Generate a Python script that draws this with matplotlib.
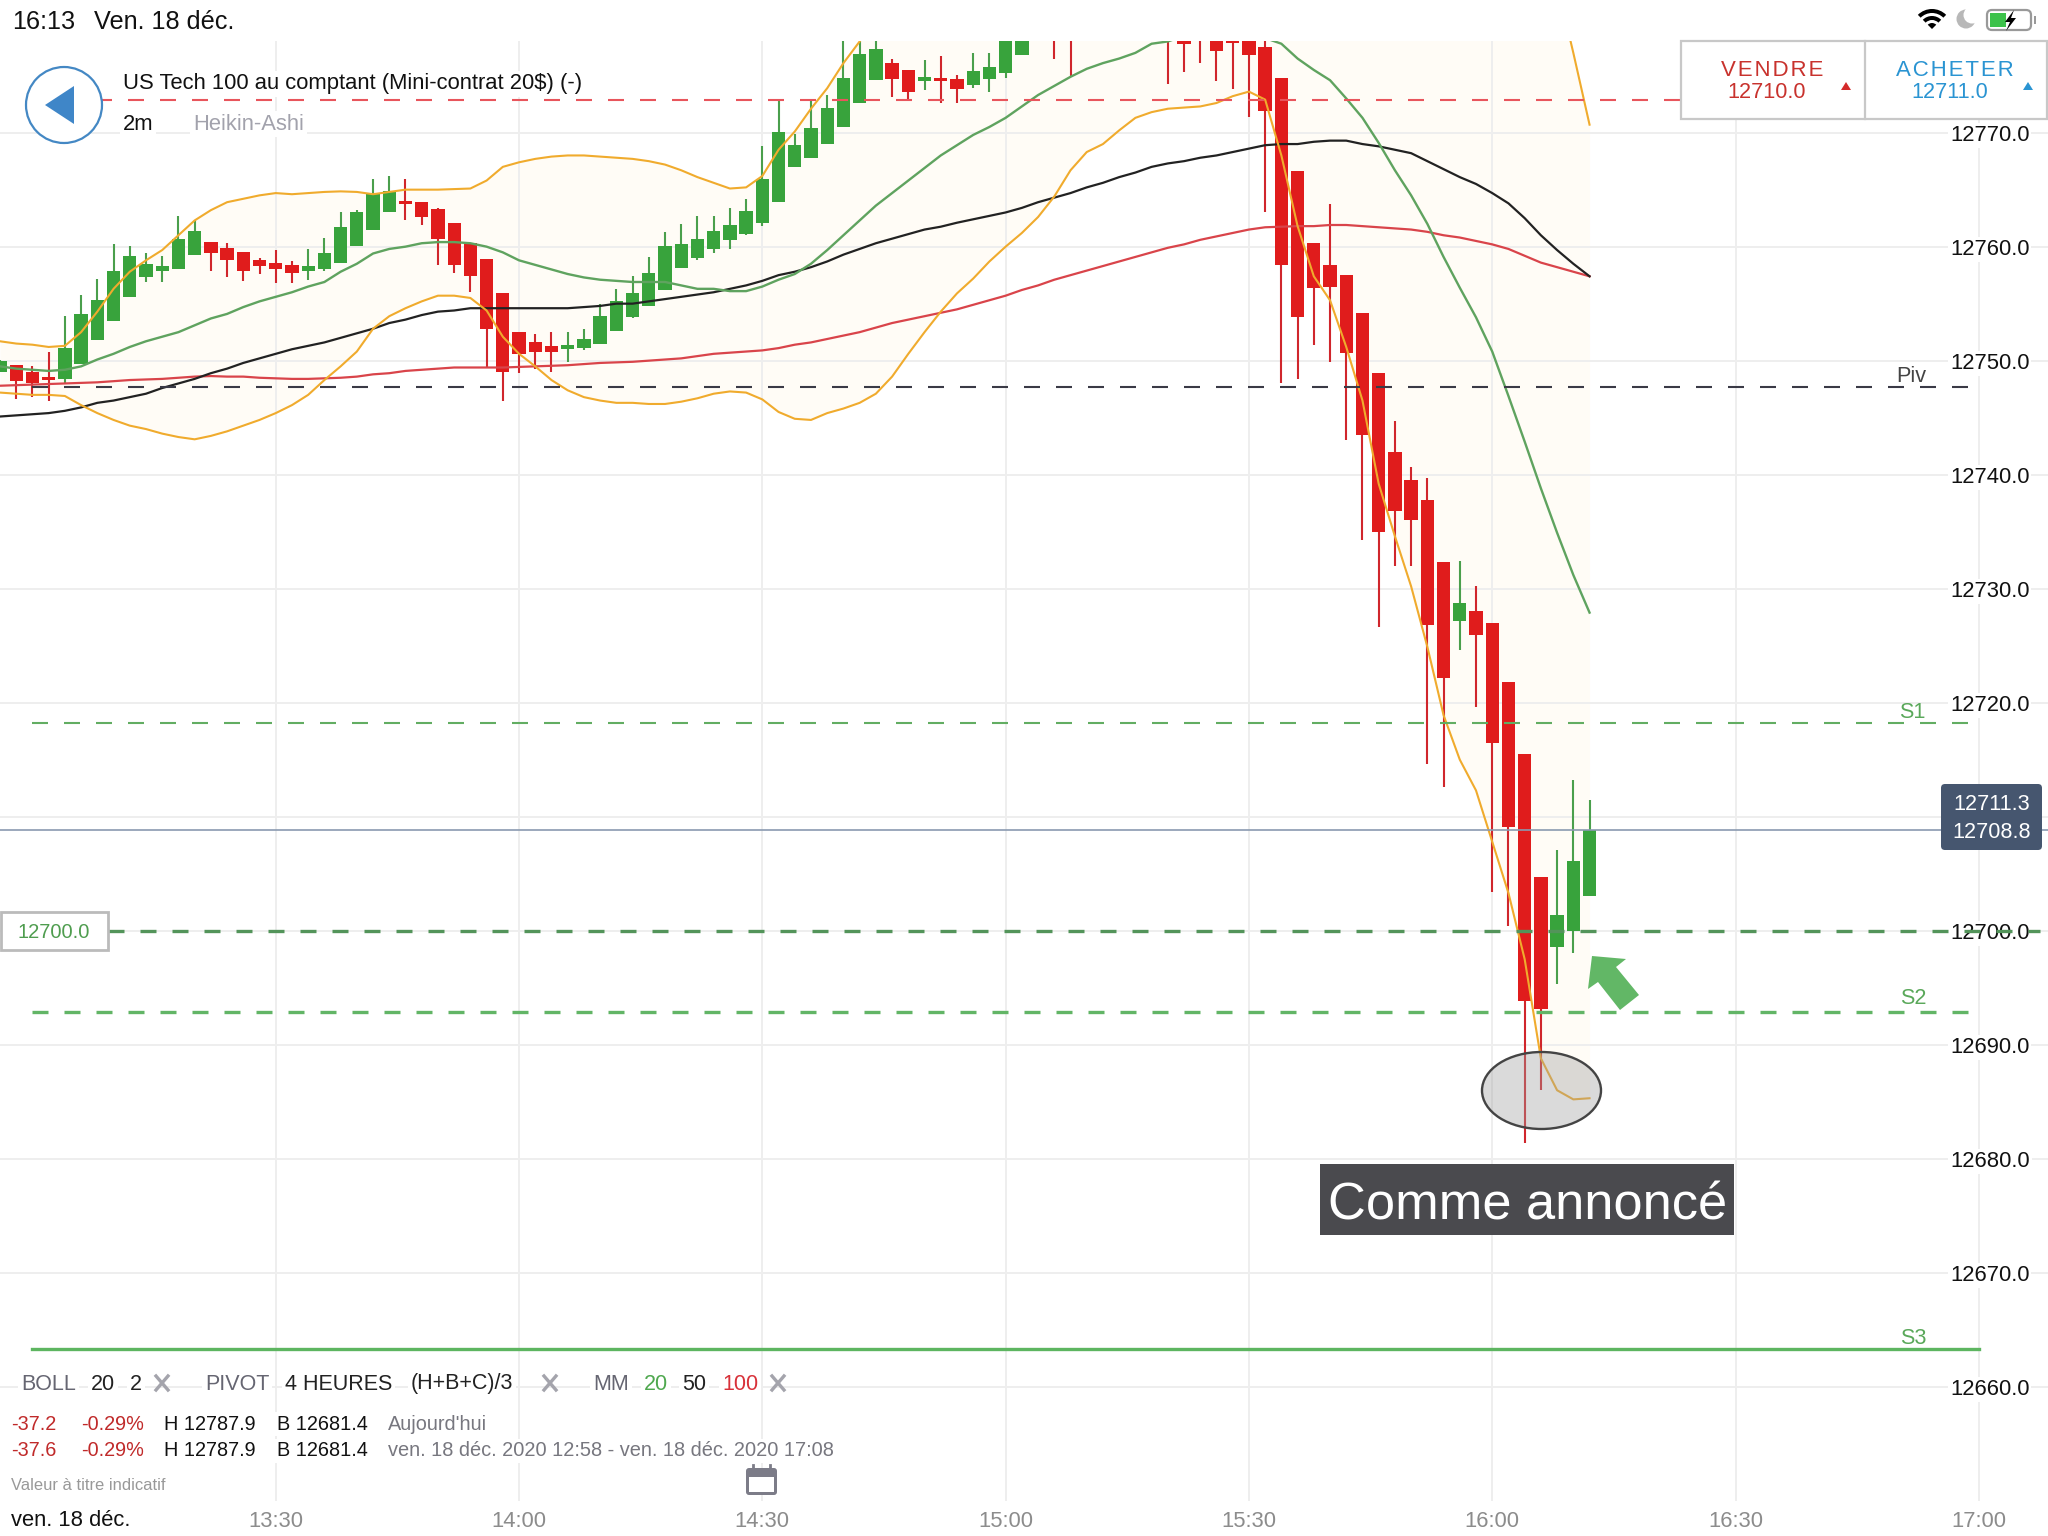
import matplotlib
matplotlib.use('Agg')
import matplotlib.pyplot as plt
from matplotlib.patches import Circle, Ellipse, FancyBboxPatch, Polygon, Rectangle, Wedge

plt.rcParams['font.family'] = ['Liberation Sans', 'DejaVu Sans']
plt.rcParams['lines.scale_dashes'] = False

# candles, one every 2 minutes from 12:56 (minutes since midnight)
times = list(range(776, 974, 2))

opens = [12749.0, 12749.6, 12749.0, 12748.6, 12748.4, 12749.7, 12751.8, 12753.5, 12755.6, 12757.3,
         12757.9, 12758.0, 12759.3, 12760.4, 12759.9, 12759.5, 12758.8, 12758.6, 12758.4, 12757.9,
         12758.0, 12758.6, 12760.1, 12761.5, 12763.0, 12764.0, 12763.9, 12763.3, 12762.1, 12760.3,
         12758.9, 12755.9, 12752.5, 12751.6, 12751.3, 12751.0, 12751.1, 12751.5, 12752.6, 12753.8,
         12754.8, 12756.2, 12758.1, 12759.0, 12759.8, 12760.6, 12761.1, 12762.1, 12763.9, 12767.0,
         12767.8, 12769.0, 12770.5, 12772.6, 12774.6, 12776.1, 12775.5, 12774.5, 12774.8, 12774.7,
         12774.2, 12774.7, 12775.2, 12776.8, 12781.0, 12785.0, 12786.0, 12785.0, 12784.0, 12783.5,
         12783.0, 12782.5, 12782.0, 12781.0, 12780.0, 12780.0, 12779.5, 12779.0, 12777.5, 12774.8,
         12766.6, 12760.3, 12758.4, 12757.5, 12754.2, 12748.9, 12742.0, 12739.5, 12737.8, 12732.3,
         12727.2, 12728.0, 12727.0, 12721.8, 12715.5, 12704.7, 12698.6, 12700.0, 12703.0]
closes = [12750.0, 12748.2, 12748.0, 12748.3, 12751.1, 12754.1, 12755.3, 12757.9, 12759.2, 12758.5,
          12758.3, 12760.7, 12761.4, 12759.4, 12758.8, 12757.9, 12758.3, 12758.0, 12757.7, 12758.3,
          12759.4, 12761.7, 12763.0, 12764.6, 12764.9, 12763.7, 12762.6, 12760.7, 12758.4, 12757.4,
          12752.8, 12749.0, 12750.6, 12750.8, 12750.8, 12751.4, 12751.9, 12753.9, 12755.2, 12755.9,
          12757.7, 12760.1, 12760.2, 12760.7, 12761.4, 12761.9, 12763.1, 12765.9, 12770.1, 12768.9,
          12770.4, 12772.2, 12774.8, 12776.9, 12777.3, 12774.7, 12773.6, 12774.9, 12774.5, 12773.8,
          12775.4, 12775.8, 12779.0, 12781.0, 12784.0, 12782.0, 12783.0, 12783.0, 12782.5, 12782.0,
          12781.0, 12780.5, 12780.0, 12777.8, 12778.5, 12777.2, 12777.9, 12776.8, 12771.9, 12758.4,
          12753.8, 12756.4, 12756.5, 12750.7, 12743.5, 12735.0, 12736.8, 12736.0, 12726.8, 12722.2,
          12728.7, 12725.9, 12716.5, 12709.1, 12693.8, 12693.1, 12701.4, 12706.1, 12708.8]
highs = [12750.1, 12749.6, 12749.5, 12750.8, 12753.9, 12755.8, 12757.2, 12760.2, 12760.1, 12759.4,
         12759.2, 12762.7, 12762.3, 12760.4, 12760.3, 12759.5, 12759.0, 12759.7, 12758.7, 12759.8,
         12760.8, 12763.0, 12763.2, 12765.9, 12766.2, 12765.9, 12763.9, 12763.4, 12762.1, 12760.3,
         12758.9, 12755.9, 12752.5, 12752.3, 12752.5, 12752.5, 12752.8, 12755.0, 12756.3, 12757.4,
         12759.1, 12761.3, 12762.0, 12762.7, 12762.7, 12763.4, 12764.2, 12768.8, 12772.9, 12769.9,
         12772.9, 12773.3, 12779.0, 12780.0, 12779.0, 12776.5, 12775.5, 12776.4, 12776.7, 12775.1,
         12777.0, 12777.0, 12781.0, 12783.0, 12786.0, 12787.0, 12787.9, 12786.0, 12785.0, 12785.0,
         12784.0, 12784.0, 12783.0, 12782.0, 12781.0, 12781.0, 12781.0, 12780.0, 12780.0, 12774.8,
         12766.6, 12760.3, 12763.7, 12757.5, 12754.2, 12748.9, 12744.7, 12740.7, 12739.7, 12732.3,
         12732.4, 12730.2, 12727.0, 12721.8, 12715.5, 12704.7, 12707.1, 12713.2, 12711.5]
lows = [12749.0, 12746.6, 12746.8, 12746.5, 12748.0, 12749.7, 12751.8, 12753.5, 12755.6, 12756.9,
        12756.9, 12758.0, 12759.3, 12757.9, 12757.3, 12757.0, 12757.6, 12756.8, 12756.8, 12757.1,
        12757.9, 12758.6, 12760.1, 12761.5, 12763.0, 12762.3, 12761.9, 12758.4, 12757.7, 12756.0,
        12749.4, 12746.5, 12748.9, 12749.3, 12749.0, 12749.9, 12750.9, 12751.5, 12752.6, 12753.7,
        12754.8, 12756.2, 12758.1, 12758.8, 12759.4, 12759.8, 12761.0, 12761.8, 12763.9, 12767.0,
        12767.8, 12769.0, 12770.5, 12772.6, 12774.6, 12773.1, 12772.9, 12773.7, 12772.6, 12772.6,
        12773.9, 12773.6, 12774.8, 12776.8, 12780.0, 12776.5, 12774.9, 12781.0, 12780.0, 12780.0,
        12779.5, 12779.0, 12774.3, 12775.3, 12776.1, 12774.5, 12773.8, 12771.4, 12763.0, 12748.0,
        12748.4, 12751.4, 12749.9, 12743.0, 12734.3, 12726.6, 12732.0, 12732.0, 12714.6, 12712.6,
        12724.6, 12719.6, 12703.4, 12700.4, 12681.4, 12686.0, 12695.3, 12698.0, 12703.0]

boll_upper = [12751.7, 12751.5, 12751.4, 12751.2, 12751.3, 12752.5, 12754.3, 12756.3, 12757.8, 12758.8,
              12759.7, 12761.0, 12762.3, 12763.2, 12763.9, 12764.2, 12764.5, 12764.7, 12764.6, 12764.7,
              12764.8, 12764.85, 12764.8, 12764.6, 12764.8, 12765.0, 12765.0, 12765.0, 12765.05, 12765.1,
              12765.8, 12767.0, 12767.4, 12767.7, 12767.9, 12768.0, 12768.0, 12767.9, 12767.8, 12767.7,
              12767.5, 12767.2, 12766.7, 12766.1, 12765.6, 12765.1, 12765.2, 12766.2, 12768.5, 12770.1,
              12772.1, 12773.9, 12776.1, 12778.0, 12780.5, 12781.5, 12782.5, 12783.0, 12783.5, 12784.0,
              12784.5, 12785.0, 12785.5, 12786.0, 12786.5, 12787.0, 12787.5, 12788.0, 12788.0, 12788.0,
              12788.0, 12788.0, 12788.0, 12788.0, 12788.0, 12788.0, 12788.0, 12788.0, 12788.5, 12790.0,
              12792.0, 12794.0, 12796.0, 12798.0, 12800.0, 12802.0, 12803.0, 12804.0, 12804.0, 12804.0,
              12803.0, 12801.0, 12798.0, 12795.0, 12791.0, 12787.0, 12783.0, 12777.0, 12770.7]
boll_lower = [12747.2, 12747.1, 12747.0, 12747.0, 12746.9, 12746.1, 12745.4, 12744.8, 12744.3, 12744.0,
              12743.6, 12743.3, 12743.1, 12743.4, 12743.8, 12744.3, 12744.8, 12745.4, 12746.1, 12747.0,
              12748.3, 12749.5, 12750.8, 12752.8, 12753.9, 12754.6, 12755.2, 12755.7, 12755.7, 12755.5,
              12754.4, 12752.1, 12750.6, 12749.5, 12748.3, 12747.4, 12746.8, 12746.5, 12746.3, 12746.3,
              12746.2, 12746.2, 12746.4, 12746.7, 12747.1, 12747.3, 12747.2, 12746.6, 12745.5, 12744.9,
              12744.8, 12745.4, 12745.8, 12746.3, 12747.1, 12748.6, 12750.6, 12752.5, 12754.3, 12755.9,
              12757.2, 12758.7, 12760.0, 12761.2, 12762.6, 12764.4, 12766.7, 12768.3, 12769.0, 12770.2,
              12771.3, 12771.8, 12772.1, 12772.2, 12772.3, 12772.6, 12773.2, 12773.6, 12772.9, 12768.0,
              12761.8, 12757.4, 12755.3, 12751.2, 12746.5, 12739.2, 12734.6, 12730.2, 12724.9, 12718.9,
              12715.0, 12712.3, 12707.8, 12703.3, 12697.5, 12688.8, 12686.0, 12685.2, 12685.3]
mm20 = [12749.5, 12749.3, 12749.2, 12749.1, 12749.2, 12749.5, 12750.1, 12750.6, 12751.2, 12751.7,
        12752.1, 12752.5, 12753.1, 12753.7, 12754.1, 12754.7, 12755.2, 12755.6, 12756.0, 12756.5,
        12756.9, 12757.8, 12758.5, 12759.4, 12759.8, 12760.0, 12760.3, 12760.4, 12760.4, 12760.3,
        12760.0, 12759.5, 12758.8, 12758.4, 12758.0, 12757.6, 12757.3, 12757.1, 12757.0, 12756.9,
        12756.9, 12756.9, 12756.6, 12756.3, 12756.3, 12756.1, 12756.1, 12756.5, 12757.1, 12757.6,
        12758.5, 12759.7, 12761.0, 12762.3, 12763.6, 12764.7, 12765.8, 12766.9, 12768.0, 12768.9,
        12769.8, 12770.5, 12771.3, 12772.3, 12773.3, 12774.1, 12774.9, 12775.6, 12776.1, 12776.5,
        12777.0, 12777.8, 12778.0, 12778.5, 12778.7, 12778.8, 12778.8, 12778.6, 12778.3, 12777.8,
        12776.5, 12775.5, 12774.6, 12773.0, 12771.3, 12769.1, 12766.7, 12764.5, 12762.0, 12759.1,
        12756.4, 12753.8, 12750.8, 12746.9, 12742.9, 12738.8, 12734.9, 12731.2, 12727.9]
mm50 = [12745.1, 12745.2, 12745.3, 12745.4, 12745.6, 12745.9, 12746.3, 12746.5, 12746.8, 12747.1,
        12747.6, 12748.0, 12748.4, 12748.9, 12749.3, 12749.8, 12750.2, 12750.6, 12751.0, 12751.3,
        12751.6, 12752.0, 12752.4, 12752.8, 12753.3, 12753.6, 12754.0, 12754.3, 12754.4, 12754.6,
        12754.6, 12754.6, 12754.6, 12754.6, 12754.6, 12754.6, 12754.7, 12754.8, 12755.0, 12755.0,
        12755.2, 12755.4, 12755.6, 12755.8, 12756.0, 12756.3, 12756.6, 12757.0, 12757.5, 12757.8,
        12758.2, 12758.7, 12759.3, 12759.8, 12760.3, 12760.7, 12761.1, 12761.5, 12761.75, 12762.1,
        12762.4, 12762.7, 12763.0, 12763.4, 12763.9, 12764.3, 12764.7, 12765.2, 12765.6, 12766.1,
        12766.5, 12767.0, 12767.3, 12767.5, 12767.8, 12768.0, 12768.3, 12768.6, 12768.9, 12769.0,
        12769.0, 12769.2, 12769.3, 12769.3, 12769.0, 12768.8, 12768.5, 12768.2, 12767.5, 12766.8,
        12766.1, 12765.5, 12764.7, 12763.8, 12762.5, 12761.0, 12759.7, 12758.5, 12757.4]
mm100 = [12747.8, 12747.85, 12747.9, 12747.95, 12748.0, 12748.05, 12748.1, 12748.2, 12748.3, 12748.35,
         12748.4, 12748.5, 12748.6, 12748.65, 12748.6, 12748.6, 12748.5, 12748.45, 12748.4, 12748.4,
         12748.45, 12748.5, 12748.6, 12748.8, 12748.9, 12749.1, 12749.2, 12749.3, 12749.4, 12749.4,
         12749.4, 12749.4, 12749.45, 12749.5, 12749.55, 12749.6, 12749.7, 12749.8, 12749.85, 12749.9,
         12750.0, 12750.1, 12750.2, 12750.4, 12750.6, 12750.7, 12750.8, 12750.9, 12751.1, 12751.4,
         12751.6, 12751.9, 12752.2, 12752.5, 12752.9, 12753.3, 12753.6, 12753.9, 12754.2, 12754.5,
         12754.9, 12755.3, 12755.7, 12756.2, 12756.6, 12757.1, 12757.5, 12757.9, 12758.3, 12758.7,
         12759.1, 12759.5, 12759.9, 12760.2, 12760.6, 12760.9, 12761.2, 12761.5, 12761.7, 12761.75,
         12761.8, 12761.8, 12761.9, 12761.9, 12761.8, 12761.7, 12761.6, 12761.5, 12761.3, 12761.0,
         12760.8, 12760.5, 12760.2, 12759.8, 12759.2, 12758.6, 12758.2, 12757.8, 12757.4]

# horizontal levels
ask_level = 12772.9
pivot = 12747.7
s1 = 12718.2
s2 = 12692.9
s3 = 12663.3
order_level = 12700.0
last_price = 12708.8

price_ticks = [12660, 12670, 12680, 12690, 12700, 12710, 12720, 12730, 12740, 12750, 12760, 12770]
# the 12710 label sits behind the price box in the app, only its grid line shows
price_labels = ['12660.0', '12670.0', '12680.0', '12690.0', '12700.0', '', '12720.0', '12730.0',
                '12740.0', '12750.0', '12760.0', '12770.0']
time_ticks = [810, 840, 870, 900, 930, 960, 990, 1020]
time_labels = ['13:30', '14:00', '14:30', '15:00', '15:30', '16:00', '16:30', '17:00']

RED = '#e01c1c'
GREEN = '#38a33c'
ORANGE = '#f0ab2d'
GRID = '#eeeeee'

fig = plt.figure(figsize=(20.48, 15.36), dpi=100)
ax = fig.add_axes([0, 0, 1, 1495 / 1536])
ax.set_xlim(776, 1028.53)
ax.set_ylim(12646.9, 12778.04)
for s in ax.spines.values():
    s.set_visible(False)

ax.set_yticks(price_ticks)
ax.set_yticklabels(price_labels)
ax.yaxis.tick_right()
ax.tick_params(axis='y', length=0, pad=-70.6, labelsize=15.8, labelcolor='#111111')
for lab in ax.get_yticklabels():
    lab.set_bbox(dict(fc='white', ec='none', pad=1.5))
ax.set_xticks(time_ticks)
ax.set_xticklabels(time_labels)
ax.tick_params(axis='x', length=0, pad=-18, labelsize=15.8, labelcolor='#8c8c8c')

# axis (grid and labels) at 1.5, above the band and the vertical lines
ax.set_axisbelow('line')
ax.grid(True, axis='y', color=GRID, lw=1.4)
ax.vlines(time_ticks, 12650, 12779, color=GRID, lw=1.4, zorder=1.2)

# bollinger band and candles
ax.fill_between(times, boll_lower, boll_upper, color='#fffcf6', lw=0, zorder=0.9)

for t, o, c, h, l in zip(times, opens, closes, highs, lows):
    up = c >= o
    ax.vlines(t, l, h, color='#4a9f4c' if up else '#d0262c', lw=1.5, zorder=3)
    ax.bar(t, abs(c - o), bottom=min(o, c), width=1.64, color=GREEN if up else RED, lw=0, zorder=4)

ax.plot(times, mm100, color='#d9444a', lw=1.6, zorder=5)
ax.plot(times, mm50, color='#222222', lw=1.6, zorder=5)
ax.plot(times, mm20, color='#5fa35f', lw=1.7, zorder=5)
ax.plot(times, boll_upper, color=ORANGE, lw=1.5, zorder=6)
ax.plot(times, boll_lower, color=ORANGE, lw=1.5, zorder=6)

# support / resistance lines
dash = (0, (11.52, 11.52))
ax.plot([779.95, 1018.9], [ask_level, ask_level], color='#e8555c', lw=1.5, ls=dash, zorder=7)
ax.plot([779.95, 1018.9], [pivot, pivot], color='#3a3a46', lw=1.5, ls=dash, zorder=7)
ax.plot([779.95, 1018.9], [s1, s1], color='#62ad62', lw=1.5, ls=dash, zorder=7)
ax.plot([779.95, 1018.9], [s2, s2], color='#62b566', lw=2.4, ls=dash, zorder=7)
ax.plot([789.3, 1027.5], [order_level, order_level], color='#53945a', lw=2.4, ls=dash, zorder=7)
ax.plot([779.95, 1020.0], [s3, s3], color='#5db560', lw=2.4, zorder=7)
ax.axhline(last_price, color='#8a9ab0', lw=1.2, zorder=7)

# interface drawn on top, in pixels
ui = fig.add_axes([0, 0, 1, 1], facecolor='none')
ui.set_xlim(0, 2048)
ui.set_ylim(1536, 0)
ui.axis('off')


def put(x, y, s, size=15.6, color='#111111', ha='left', box=False, **kw):
    if box:
        kw['bbox'] = dict(fc='white', ec='none', pad=2)
    ui.text(x, y, s, fontsize=size, color=color, ha=ha, va='center', **kw)


def cross(x, y):
    ui.plot([x - 6, x + 6], [y - 7, y + 7], color='#a4a4ac', lw=2.4)
    ui.plot([x - 6, x + 6], [y + 7, y - 7], color='#a4a4ac', lw=2.4)


# status bar
put(12, 22, '16:13', 18.2)
put(94, 22, 'Ven. 18 déc.', 18.2)
for r, w in [(20, 4), (13, 4), (6, 6)]:
    ui.add_patch(Wedge((1932, 29), r, 225, 315, width=w, color='black', lw=0))
ui.add_patch(Circle((1966, 19), 9.5, color='#b8b8b8', lw=0))
ui.add_patch(Circle((1972, 15), 8.5, color='white', lw=0))
ui.add_patch(FancyBboxPatch((1987, 10), 44, 20, boxstyle='round,pad=0,rounding_size=5', fc='white', ec='#999999', lw=1.6))
ui.add_patch(Rectangle((1990, 13), 16, 14, color='#3cc24a', lw=0))
ui.add_patch(Polygon([(2014, 10), (2005, 22), (2010, 22), (2006, 31), (2016, 18), (2011, 18)], color='black', lw=0))
ui.add_patch(Rectangle((2034, 16), 2, 8, color='#999999', lw=0))

# back button and title
ui.add_patch(Circle((64, 105), 38, fc='white', ec='#4488c4', lw=1.6))
ui.add_patch(Polygon([(45, 105), (74, 86), (74, 124)], color='#3f86c8', lw=0))
put(123, 84, 'US Tech 100 au comptant (Mini-contrat 20$) (-)', 15.8, box=True)
put(123, 124, '2m', 15.8, box=True)
put(193, 124, 'Heikin-Ashi', 15.8, '#a2a2ac', box=True)

# buy / sell box
ui.add_patch(Rectangle((1681, 41), 366, 78, fc='white', ec='#c8c8c8', lw=1.6))
ui.plot([1865, 1865], [41, 119], color='#c8c8c8', lw=1.6)
put(1772, 70, '\u200a'.join('VENDRE'), 16, '#c8322d', 'center')
put(1767, 92, '12710.0', 15.6, '#c8322d', 'center')
put(1955, 70, '\u200a'.join('ACHETER'), 16, '#2a94d2', 'center')
put(1950, 92, '12711.0', 15.6, '#2a94d2', 'center')
ui.add_patch(Polygon([(1841, 90), (1851, 90), (1846, 82)], color='#d42a2a', lw=0))
ui.add_patch(Polygon([(2023, 90), (2033, 90), (2028, 82)], color='#2a94d2', lw=0))

# level names
put(1911, 376, 'Piv', 15.6, '#444444', 'center')
put(1912, 713, 'S1', 15.6, '#5aa85a', 'center')
put(1913, 999, 'S2', 15.6, '#5aa85a', 'center')
put(1913, 1338, 'S3', 15.6, '#5aa85a', 'center')

# order tag and price box
ui.add_patch(Rectangle((1, 912), 107, 38, fc='white', ec='#bbbbbb', lw=2))
put(54, 932, '12700.0', 14.5, '#4f9d4f', 'center')
ui.add_patch(FancyBboxPatch((1941, 784), 101, 66, boxstyle='round,pad=0,rounding_size=4', fc='#46566f', ec='none'))
put(1992, 804, '12711.3', 15.6, 'white', 'center')
put(1992, 833, '12708.8', 15.6, 'white', 'center')

# annotations
ui.add_patch(Polygon([(1592, 956), (1626, 959), (1616, 967), (1639, 995), (1620, 1010), (1598, 982), (1588, 989)], color='#62b766', lw=0))
ui.add_patch(Ellipse((1541.5, 1090.5), 119, 77, fc=(0.62, 0.62, 0.62, 0.38), ec='#444444', lw=1.7))
ui.add_patch(Rectangle((1320, 1164), 414, 71, color='#4a4a4e', lw=0))
put(1528, 1206, 'Comme annoncé', 37.7, 'white', 'center')

# indicators row
put(21, 1384, 'BOLL', 15.5, '#666672', box=True)
put(91, 1384, '20', 15.5, '#222222', box=True)
put(130, 1384, '2', 15.5, '#222222', box=True)
cross(162, 1383)
put(205, 1384, 'PIVOT', 15.5, '#666672', box=True)
put(285, 1384, '4 HEURES', 15.5, '#222222', box=True)
put(411, 1384, '(H+B+C)/3', 15.5, '#222222', box=True)
cross(550, 1383)
put(593, 1384, 'MM', 15.5, '#666672', box=True)
put(644, 1384, '20', 15.5, '#4fa84f', box=True)
put(682, 1384, '50', 15.5, '#222222', box=True)
put(722, 1384, '100', 15.5, '#d8323a', box=True)
cross(778, 1383)

# day stats
put(11, 1424, '-37.2', 14.3, '#c02a2a', box=True)
put(81, 1424, '-0.29%', 14.3, '#c02a2a', box=True)
put(164, 1424, 'H 12787.9', 14.3, box=True)
put(277, 1424, 'B 12681.4', 14.3, box=True)
put(388, 1424, "Aujourd'hui", 14.3, '#77777f', box=True)
put(11, 1451, '-37.6', 14.3, '#c02a2a', box=True)
put(81, 1451, '-0.29%', 14.3, '#c02a2a', box=True)
put(164, 1451, 'H 12787.9', 14.3, box=True)
put(277, 1451, 'B 12681.4', 14.3, box=True)
put(388, 1451, 'ven. 18 déc. 2020 12:58 - ven. 18 déc. 2020 17:08', 14.4, '#77777f', box=True)
put(11, 1486, 'Valeur à titre indicatif', 11.9, '#999999', box=True)
put(11, 1520, 'ven. 18 déc.', 15.8, box=True)

# calendar icon
ui.add_patch(FancyBboxPatch((746, 1468), 31, 27, boxstyle='round,pad=0,rounding_size=3', fc='#7c7c88', ec='none'))
ui.add_patch(Rectangle((749, 1477), 25, 15, color='white', lw=0))
ui.plot([753, 753], [1465, 1471], color='#7c7c88', lw=2)
ui.plot([770, 770], [1465, 1471], color='#7c7c88', lw=2)

fig.savefig('out.png', dpi=100)
